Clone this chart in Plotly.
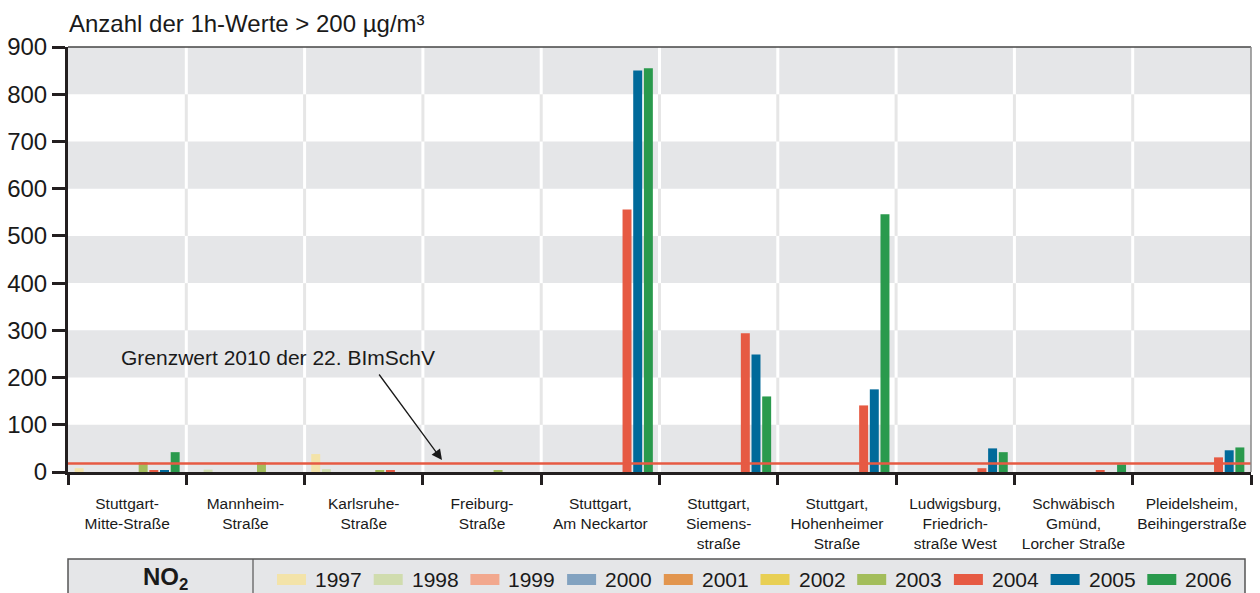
import plotly.graph_objects as go

# ---------------- data ----------------
stations = [
    "Stuttgart-<br>Mitte-Straße",
    "Mannheim-<br>Straße",
    "Karlsruhe-<br>Straße",
    "Freiburg-<br>Straße",
    "Stuttgart,<br>Am Neckartor",
    "Stuttgart,<br>Siemens-<br>straße",
    "Stuttgart,<br>Hohenheimer<br>Straße",
    "Ludwigsburg,<br>Friedrich-<br>straße West",
    "Schwäbisch<br>Gmünd,<br>Lorcher Straße",
    "Pleidelsheim,<br>Beihingerstraße",
]
years = ["1997", "1998", "1999", "2000", "2001", "2002", "2003", "2004", "2005", "2006"]
colors = ["#f3e3a9", "#d0dcae", "#f2a88e", "#82a2c0", "#e2954e",
          "#e8cf54", "#a3bd5b", "#e65a43", "#006a9a", "#2a9a4d"]

v1997 = [8, 0, 38, 0, 0, 0, 0, 0, 0, 0]
v1998 = [0, 5, 6, 0, 0, 0, 0, 0, 0, 0]
v1999 = [0, 0, 0, 0, 0, 0, 0, 0, 0, 0]
v2000 = [0, 0, 0, 0, 0, 0, 0, 0, 0, 0]
v2001 = [0, 0, 0, 0, 0, 0, 0, 0, 0, 0]
v2002 = [0, 0, 0, 0, 0, 0, 0, 0, 0, 0]
v2003 = [21, 21, 3, 3, 0, 0, 0, 0, 0, 0]
v2004 = [3, 0, 3, 0, 556, 294, 141, 8, 3, 31]
v2005 = [3, 0, 0, 0, 850, 249, 175, 50, 0, 46]
v2006 = [42, 0, 0, 0, 855, 160, 546, 42, 16, 52]
series = [v1997, v1998, v1999, v2000, v2001, v2002, v2003, v2004, v2005, v2006]

limit_value = 18
y_ticks = [0, 100, 200, 300, 400, 500, 600, 700, 800, 900]

title_text = "Anzahl der 1h-Werte > 200 µg/m³"
limit_text = "Grenzwert 2010 der 22. BImSchV"
pollutant = "NO<sub>2</sub>"

# ---------------- layout geometry (pixels) ----------------
W, H = 1260, 593
L, R = 68, 1251
T, B = 47, 472
PW, PH = R - L, B - T
FONT = "Liberation Sans, Arial, sans-serif"
BAND = "#e5e6e8"


def px_x(px):
    return (px - L) / PW


def px_y(py):
    return (B - py) / PH


fig = go.Figure()
for yr, col, vals in zip(years, colors, series):
    fig.add_trace(go.Bar(x=stations, y=vals, name=yr, marker_color=col,
                         marker_line_width=0, showlegend=False))

shapes = []
# alternating background bands
for k in range(0, 900, 100):
    if (k // 100) % 2 == 0:
        shapes.append(dict(type="rect", xref="paper", yref="y", x0=0, x1=1,
                           y0=k, y1=k + 100, fillcolor=BAND, line_width=0,
                           layer="below"))
# vertical separators between stations
n = len(stations)
for i in range(n - 1):
    for k in range(0, 900, 100):
        col = "#ffffff" if (k // 100) % 2 == 0 else "#e6e6e6"
        shapes.append(dict(type="line", xref="x", yref="y", x0=i + 0.5, x1=i + 0.5,
                           y0=k, y1=k + 100, line=dict(color=col, width=3),
                           layer="below"))
# limit line
shapes.append(dict(type="line", xref="paper", yref="y", x0=0, x1=1,
                   y0=limit_value, y1=limit_value,
                   line=dict(color="#e65a43", width=2.5), layer="above"))
# top and right frame
shapes.append(dict(type="line", xref="paper", yref="paper", x0=0, x1=1, y0=1, y1=1,
                   line=dict(color="#444444", width=1.5)))
shapes.append(dict(type="line", xref="paper", yref="paper", x0=1, x1=1, y0=0, y1=1,
                   line=dict(color="#8a8a8a", width=1.5)))

# legend box
lb_top = 559
shapes.append(dict(type="rect", xref="paper", yref="paper",
                   x0=px_x(68), x1=px_x(1245), y0=px_y(lb_top), y1=px_y(600),
                   fillcolor=BAND, line=dict(color="#555555", width=1.5)))
shapes.append(dict(type="line", xref="paper", yref="paper",
                   x0=px_x(253), x1=px_x(253), y0=px_y(lb_top), y1=px_y(600),
                   line=dict(color="#555555", width=1.2)))

annotations = [
    dict(text=title_text, xref="paper", yref="paper", x=px_x(67), y=px_y(24),
         xanchor="left", yanchor="middle", showarrow=False,
         font=dict(family=FONT, size=24, color="#1a1a1a")),
    dict(text=limit_text, xref="paper", yref="paper", x=px_x(278), y=px_y(357),
         xanchor="center", yanchor="middle", showarrow=False,
         font=dict(family=FONT, size=21, color="#1a1a1a")),
    dict(text="", xref="paper", yref="paper", x=px_x(442), y=px_y(460),
         ax=378 - 442, ay=373 - 460, axref="pixel", ayref="pixel",
         showarrow=True, arrowhead=2, arrowsize=1.6, arrowwidth=1.3,
         arrowcolor="#1a1a1a"),
    dict(text="<b>" + pollutant + "</b>", xref="paper", yref="paper",
         x=px_x(165), y=px_y(578), xanchor="center", yanchor="middle",
         showarrow=False, font=dict(family=FONT, size=24, color="#1a1a1a")),
]

# manual legend entries
sw_x0, pitch = 277, 96.7
for i, (yr, col) in enumerate(zip(years, colors)):
    x0 = sw_x0 + i * pitch
    shapes.append(dict(type="rect", xref="paper", yref="paper",
                       x0=px_x(x0), x1=px_x(x0 + 29), y0=px_y(585), y1=px_y(574),
                       fillcolor=col, line_width=0))
    annotations.append(dict(text=yr, xref="paper", yref="paper",
                            x=px_x(x0 + 36), y=px_y(579.5), xanchor="left",
                            yanchor="middle", showarrow=False,
                            font=dict(family=FONT, size=21, color="#1a1a1a")))

fig.update_layout(
    width=W, height=H,
    margin=dict(l=L, r=W - R, t=T, b=H - B, pad=0, autoexpand=False),
    paper_bgcolor="white", plot_bgcolor="white",
    barmode="group", bargap=0.098, bargroupgap=0.16,
    font=dict(family=FONT, color="#1a1a1a"),
    shapes=shapes, annotations=annotations,
    showlegend=False,
    xaxis=dict(type="category", showgrid=False, zeroline=False, automargin=False,
               showline=True, linecolor="#231f20", linewidth=3,
               ticks="outside", tickson="boundaries", ticklen=10, tickwidth=2.5,
               tickcolor="#231f20", tickangle=0,
               tickfont=dict(family=FONT, size=15.5, color="#1a1a1a"),
               ticklabelstandoff=15, range=[-0.5, n - 0.5]),
    yaxis=dict(range=[0, 900], tickvals=y_ticks, showgrid=False, zeroline=False,
               automargin=False,
               showline=True, linecolor="#231f20", linewidth=3,
               ticks="outside", ticklen=13, tickwidth=2.5, tickcolor="#231f20",
               tickfont=dict(family=FONT, size=24, color="#1a1a1a")),
)

fig.write_html("out.html", config={"displayModeBar": False},
               post_script="document.body.style.margin='0';document.body.style.padding='0';document.body.style.overflow='hidden';")
